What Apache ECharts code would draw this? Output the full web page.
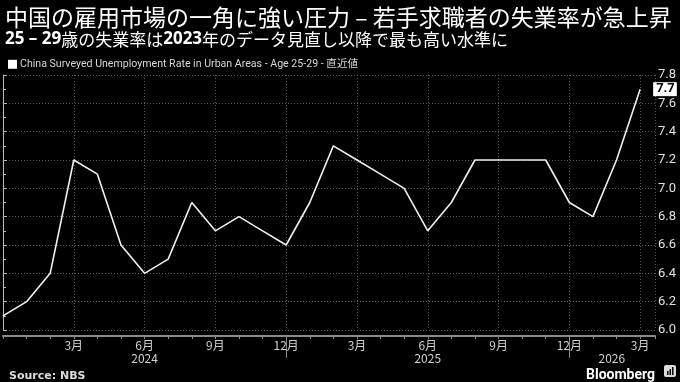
<!DOCTYPE html>
<html><head><meta charset="utf-8">
<script src="https://cdn.jsdelivr.net/npm/echarts@6/dist/echarts.min.js"></script>
<style>html,body{margin:0;padding:0;background:#000;}#c{width:680px;height:382px;}</style>
</head><body><div id="c"></div>
<script>
// Month index 0 = Dec 2023 ... 27 = Mar 2026
const monthIndex = [0,1,2,3,4,5,6,7,8,9,10,11,12,13,14,15,16,17,18,19,20,21,22,23,24,25,26,27];
const rates = [6.1,6.2,6.4,7.2,7.1,6.6,6.4,6.5,6.9,6.7,6.8,6.7,6.6,6.9,7.3,7.2,7.1,7.0,6.7,6.9,7.2,7.2,7.2,7.2,6.9,6.8,7.2,7.7];
const yearLabelPos = [6, 18, 25.8];
const yearLabels = ['2024','2025','2026'];
const yearSeparators = [12, 24];
const seriesName = 'China Surveyed Unemployment Rate in Urban Areas - Age 25-29 - 直近値';
const titleText = '中国の雇用市場の一角に強い圧力 – 若手求職者の失業率が急上昇';

const CJK = '"Noto Sans CJK JP","Noto Sans",sans-serif';
const data = monthIndex.map((m,i)=>[m, rates[i]]);
const chart = echarts.init(document.getElementById('c'), null, {renderer:'canvas'});
chart.setOption({
  backgroundColor:'#000',
  animation:false,
  title:[{
    text:titleText, left:0, top:1,
    textStyle:{color:'#fff', fontSize:23, fontWeight:'normal', fontFamily:CJK}
  },{
    text:'{b|25 – 29}{n|歳の失業率は}{b|2023}{n|年のデータ見直し以降で最も高い水準に}',
    left:0, top:26,
    textStyle:{fontWeight:'normal', rich:{
      b:{color:'#fff', fontSize:17, fontWeight:'bold', fontFamily:'"Open Sans","Noto Sans",sans-serif'},
      n:{color:'#fff', fontSize:17, fontWeight:'normal', fontFamily:CJK}
    }}
  },{
    text:'Source: NBS', left:4, top:366,
    textStyle:{color:'#ddd', fontSize:11, fontWeight:'bold', fontFamily:'"DejaVu Sans",sans-serif'}
  },{
    text:'Bloomberg', right:20, top:363,
    textStyle:{color:'#fff', fontSize:14, fontWeight:'bold', fontFamily:'"Roboto","Noto Sans",sans-serif'}
  }],
  legend:{
    left:3, top:54, icon:'rect', itemWidth:9, itemHeight:9, itemGap:4,
    textStyle:{color:'#d8d8d8', fontSize:10.6, fontFamily:'Roboto,"Noto Sans CJK JP",sans-serif', padding:[0,0,0,-2]},
    data:[{name:seriesName, itemStyle:{color:'#fff'}}]
  },
  grid:{left:0, right:25, top:75, bottom:52, containLabel:false},
  xAxis:[{
    type:'value', min:0, max:27.63, interval:3, offset:6,
    axisLine:{show:true, lineStyle:{color:'#8a8a8a', width:2}},
    axisTick:{show:true, length:3, lineStyle:{color:'#8a8a8a'}},
    minorTick:{show:true, splitNumber:3, length:3, lineStyle:{color:'#8a8a8a'}},
    axisLabel:{color:'#d0d0d0', fontSize:12, margin:3, fontFamily:CJK,
      formatter:function(v){ if(v<=0 || Math.abs(v-Math.round(v))>0.01) return ''; const m=((Math.round(v)+11)%12)+1; return m+'月'; }},
    splitLine:{show:true, lineStyle:{color:'#5a5a5a', type:[1,2], width:1}}
  },{
    type:'value', min:0, max:27.63, position:'bottom', offset:6,
    axisLine:{show:false},
    axisTick:{show:true, customValues:yearSeparators, length:22, lineStyle:{color:'#8a8a8a'}},
    axisLabel:{show:true, customValues:yearLabelPos, color:'#d0d0d0', fontSize:12, margin:16, fontFamily:CJK,
      formatter:function(v){ const i=yearLabelPos.indexOf(v); return i>=0?yearLabels[i]:''; }},
    splitLine:{show:false}
  }],
  yAxis:{
    type:'value', position:'right', min:6.0, max:7.8, interval:0.2,
    axisLine:{show:true, lineStyle:{color:'#bbb', width:1}},
    axisTick:{show:true, inside:false, length:4, lineStyle:{color:'#bbb'}},
    minorTick:{show:true, splitNumber:2, length:3, lineStyle:{color:'#bbb'}},
    axisLabel:{color:'#e0e0e0', fontSize:13, margin:3, fontFamily:'"Roboto","Noto Sans",sans-serif',
      formatter:function(v){return v.toFixed(1);}},
    splitLine:{show:true, lineStyle:{color:'#5a5a5a', type:[1,2], width:1}}
  },
  series:[{
    name:seriesName, type:'line', data:data, showSymbol:false, symbol:'none',
    lineStyle:{color:'#f0f0f0', width:1.6},
    itemStyle:{color:'#fff'},
    endLabel:{show:true, formatter:function(p){return p.value[1].toFixed(1);},
      color:'#000', backgroundColor:'#fff', fontSize:13, fontWeight:'bold',
      fontFamily:'"Roboto","Noto Sans",sans-serif', padding:[1,2,0,3], offset:[13,0], distance:0},
    z:5
  }],
  graphic:[{
    type:'group', right:4, top:365,
    children:[
      {type:'rect', shape:{x:0,y:0,width:12,height:12,r:2}, style:{fill:'#ddd'}},
      {type:'rect', shape:{x:3,y:6,width:1.5,height:4}, style:{fill:'#000'}},
      {type:'rect', shape:{x:5.5,y:4,width:1.5,height:6}, style:{fill:'#000'}},
      {type:'rect', shape:{x:8,y:2,width:1.5,height:8}, style:{fill:'#000'}}
    ]
  }]
});
</script></body></html>
